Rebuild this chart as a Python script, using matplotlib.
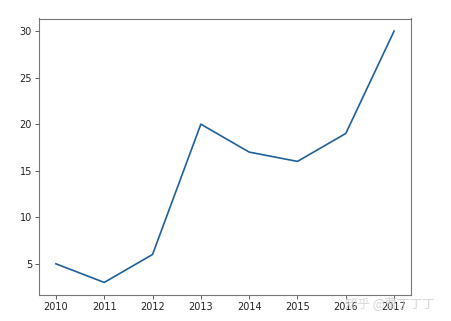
import matplotlib
matplotlib.use("Agg")
import matplotlib.pyplot as plt

years = [2010, 2011, 2012, 2013, 2014, 2015, 2016, 2017]
values = [5, 3, 6, 20, 17, 16, 19, 30]

fig = plt.figure(figsize=(4.51, 3.21), dpi=100)
ax = fig.add_axes([39/451, 1-295/321, (411-39)/451, (295-18.5)/321])
ax.plot(years, values, color="#1f5f9a", linewidth=1.2)
ax.set_xticks(years)
ax.set_yticks([5, 10, 15, 20, 25, 30])
ax.tick_params(labelsize=7, length=3, width=0.6, color="#444444", labelcolor="#222222", pad=2)
for s in ax.spines.values():
    s.set_color("#777777")
    s.set_linewidth(0.8)

fig.text(0.765, 0.045, "知乎 @曹丁丁丁", fontsize=9, color="#cccccc", alpha=0.8,
         family=["Noto Sans CJK SC", "DejaVu Sans"])
fig.savefig("out.png", dpi=100)
